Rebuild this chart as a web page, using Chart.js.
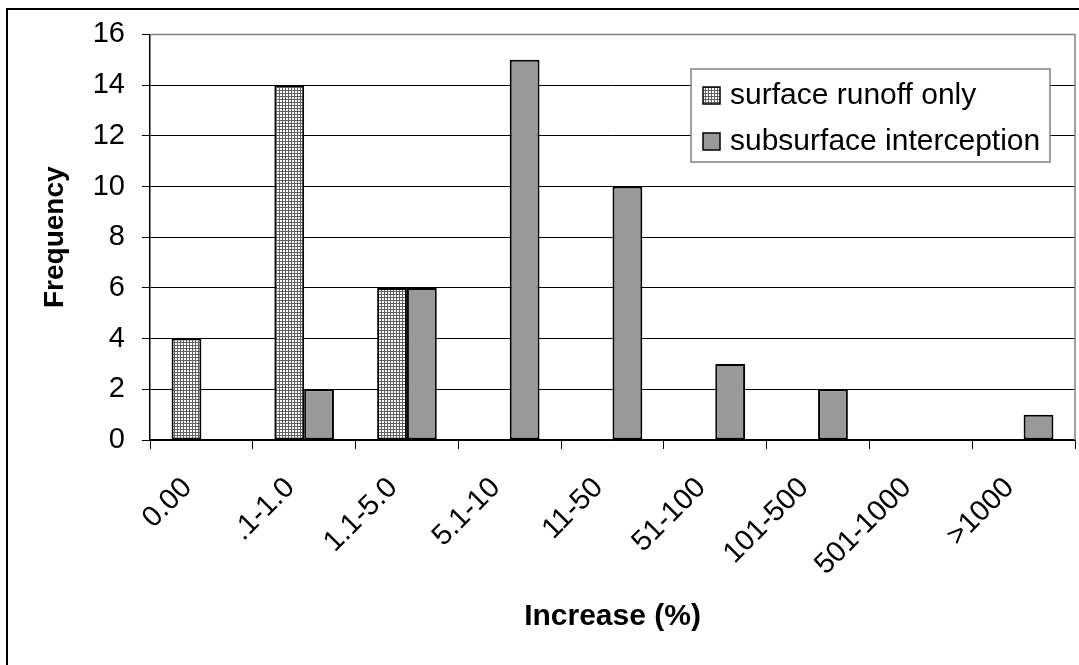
<!DOCTYPE html>
<html>
<head>
<meta charset="utf-8">
<title>Frequency of increase</title>
<script src="https://cdn.jsdelivr.net/npm/chart.js@4/dist/chart.umd.min.js"></script>
<style>
  html, body { margin: 0; padding: 0; background: #ffffff; }
  #wrap { width: 1079px; height: 665px; position: relative; }
</style>
</head>
<body>
<div id="wrap"><canvas id="chart" width="1079" height="665"></canvas></div>
<script>
// Increase classes (%) and how many cases fall in each
const categories = ['0.00', '.1-1.0', '1.1-5.0', '5.1-10', '11-50', '51-100', '101-500', '501-1000', '>1000'];
const surfaceRunoffOnly = [4, 14, 6, 0, 0, 0, 0, 0, 0];
const subsurfaceInterception = [0, 2, 6, 15, 10, 3, 2, 0, 1];
const yTicks = [0, 2, 4, 6, 8, 10, 12, 14, 16];

const FONT = '"Liberation Sans", Arial, sans-serif';

// fine grey grid fill for the first series
function gridPattern() {
  const c = document.createElement('canvas');
  c.width = 3; c.height = 3;
  const g = c.getContext('2d');
  g.fillStyle = '#ffffff';
  g.fillRect(0, 0, 3, 3);
  g.fillStyle = '#5f5f5f';
  g.fillRect(0, 0, 3, 1);
  g.fillRect(0, 0, 1, 3);
  return g.createPattern(c, 'repeat');
}
const gridFill = gridPattern();

// no outline on empty classes
const outline = ctx => (ctx.raw ? 2 : 0);

// outer chart frame, plot-area border and the boxed legend
const decorations = {
  id: 'decorations',
  beforeDraw(chart) {
    const ctx = chart.ctx;
    ctx.save();
    ctx.fillStyle = '#ffffff';
    ctx.fillRect(0, 0, chart.width, chart.height);
    ctx.strokeStyle = '#000000';
    ctx.lineWidth = 2;
    ctx.strokeRect(7, 9, chart.width + 20, chart.height + 20);
    ctx.restore();
  },
  afterDatasetsDraw(chart) {
    const ctx = chart.ctx;
    const a = chart.chartArea;
    ctx.save();
    ctx.strokeStyle = '#808080';
    ctx.lineWidth = 1.5;
    ctx.beginPath();
    ctx.moveTo(a.left, a.top);
    ctx.lineTo(a.right, a.top);
    ctx.lineTo(a.right, a.bottom);
    ctx.stroke();

    // legend
    const box = { x: 691, y: 69, w: 359, h: 93 };
    ctx.fillStyle = '#ffffff';
    ctx.fillRect(box.x, box.y, box.w, box.h);
    ctx.strokeStyle = '#808080';
    ctx.lineWidth = 1.5;
    ctx.strokeRect(box.x, box.y, box.w, box.h);
    const rows = [95, 141];
    chart.data.datasets.forEach((ds, i) => {
      const cy = rows[i];
      ctx.fillStyle = ds.backgroundColor;
      ctx.fillRect(703, cy - 8, 17, 17);
      ctx.strokeStyle = '#000000';
      ctx.lineWidth = 1.5;
      ctx.strokeRect(703, cy - 8, 17, 17);
      ctx.fillStyle = '#000000';
      ctx.font = '30px ' + FONT;
      ctx.textAlign = 'left';
      ctx.textBaseline = 'middle';
      ctx.fillText(ds.label, 730, cy + 1);
    });
    ctx.restore();
  }
};

new Chart(document.getElementById('chart'), {
  type: 'bar',
  data: {
    labels: categories,
    datasets: [
      {
        label: 'surface runoff only',
        data: surfaceRunoffOnly,
        backgroundColor: gridFill,
        borderColor: '#000000',
        borderWidth: outline,
        borderSkipped: false
      },
      {
        label: 'subsurface interception',
        data: subsurfaceInterception,
        backgroundColor: '#999999',
        borderColor: '#000000',
        borderWidth: outline,
        borderSkipped: false
      }
    ]
  },
  options: {
    responsive: false,
    animation: false,
    devicePixelRatio: 1,
    layout: { padding: { left: 0, right: 4, top: 34, bottom: 0 } },
    datasets: { bar: { categoryPercentage: 0.58, barPercentage: 1.0 } },
    plugins: {
      legend: { display: false },
      tooltip: { enabled: false }
    },
    scales: {
      x: {
        offset: true,
        grid: { offset: true, drawOnChartArea: false, drawTicks: true, tickLength: 9, color: '#000000', lineWidth: 1 },
        border: { display: true, color: '#000000', width: 1.5 },
        ticks: {
          color: '#000000',
          font: { family: FONT, size: 29 },
          maxRotation: 45, minRotation: 45,
          autoSkip: false,
          labelOffset: -14,
          padding: 22
        },
        title: {
          display: true,
          text: 'Increase (%)',
          color: '#000000',
          font: { family: FONT, size: 30, weight: 'bold' },
          padding: { top: 0, bottom: 30 }
        },
        afterFit(scale) { scale.height = 225; }
      },
      y: {
        min: 0, max: 16,
        afterBuildTicks(scale) { scale.ticks = yTicks.map(v => ({ value: v })); },
        grid: { color: '#000000', lineWidth: 1, drawTicks: true, tickLength: 8 },
        border: { display: true, color: '#000000', width: 1.5 },
        ticks: {
          color: '#000000',
          font: { family: FONT, size: 29 },
          padding: 17
        },
        title: {
          display: true,
          text: 'Frequency',
          color: '#000000',
          font: { family: FONT, size: 28, weight: 'bold' },
          padding: { top: 38, bottom: 0 }
        },
        afterFit(scale) { scale.width = 150; }
      }
    }
  },
  plugins: [decorations]
});
</script>
</body>
</html>
